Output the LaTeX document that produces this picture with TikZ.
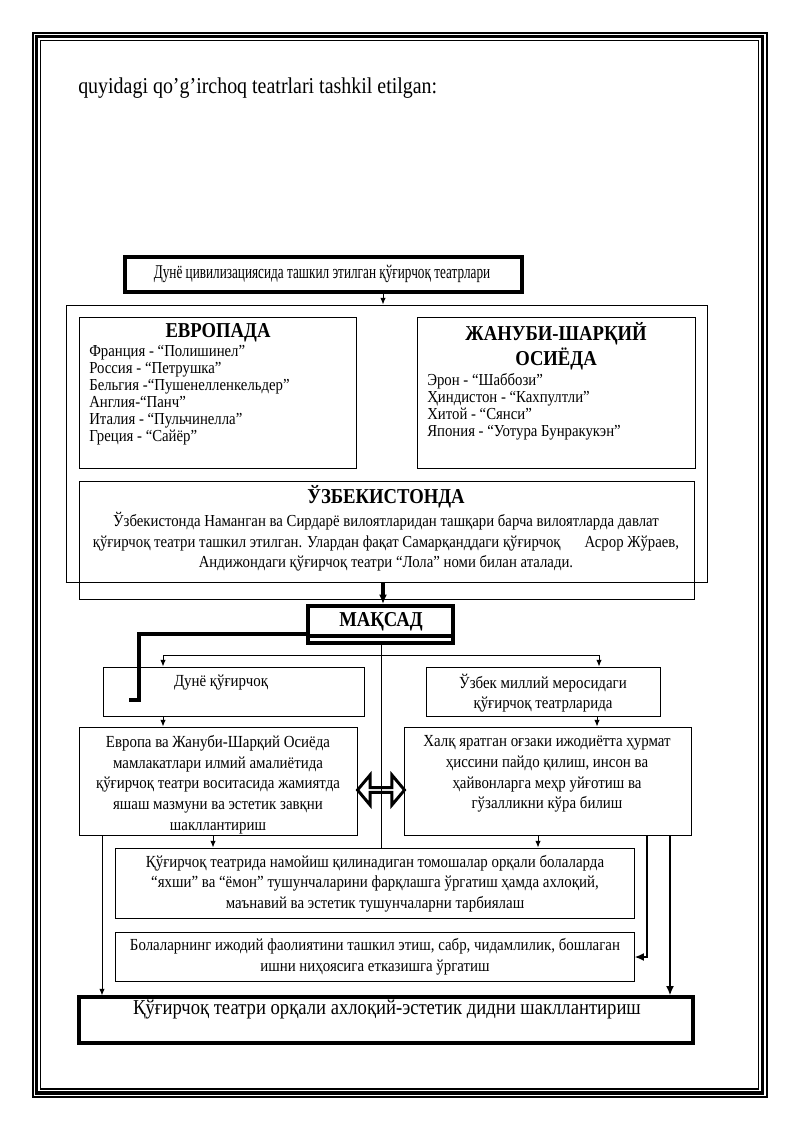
\documentclass[tikz,border=0pt]{standalone}
\usepackage{fontspec}
\setmainfont[FakeStretch=0.88]{Liberation Serif}
\newfontfamily\condfont[FakeStretch=0.68]{Liberation Serif}
\usetikzlibrary{fit,shapes.arrows,arrows.meta}
\begin{document}
\begin{tikzpicture}[x=0.75pt,y=-0.75pt,
  box/.style={draw=black, line width=0.75pt, inner sep=0pt, fill=none},
  thickbox/.style={draw=black, line width=3pt, inner sep=0pt},
  txt/.style={inner sep=0pt, align=center, font=\fontsize{12.7}{15.5}\selectfont},
  lst/.style={inner sep=0pt, align=left, font=\fontsize{12.6}{12.75}\selectfont},
  hd/.style={inner sep=0pt, align=center, font=\fontsize{15.9}{18.75}\selectfont\bfseries},
  conn/.style={line width=0.6pt, -{Latex[length=5pt,width=4pt]}},
  thickconn/.style={line width=2.4pt, -{Latex[length=7pt,width=6pt]}}
]
\useasboundingbox (0,0) rectangle (800,1131);
\fill[white] (0,0) rectangle (800,1131);
% page border
\draw[line width=0.8pt] (33,33) rectangle (767,1097);
\draw[line width=2.3pt] (36.5,36.5) rectangle (762.5,1093);
\draw[line width=0.8pt] (40.5,40.5) rectangle (758.5,1089);

\node[anchor=west, inner sep=0pt, font=\fontsize{17}{19}\selectfont] (intro) at (78,88) {quyidagi qo’g’irchoq teatrlari tashkil etilgan:};

% title
\node[thickbox, fit={(125,257)(522,292)}] (title) {};
\node[inner sep=0pt, font=\condfont\fontsize{14.6}{16}\selectfont] (titletxt) at (322,274) {Дунё цивилизациясида ташкил этилган қўғирчоқ театрлари};

% outer
\node[box, fit={(66,305)(707,582)}] (outer) {};
\coordinate (tarr) at (383,292);
\draw[conn] (tarr) -- (tarr |- outer.north);

% Europe
\node[box, fit={(79,317)(356,468)}] (evr) {};
\node[hd] (evrh) at (218,333) {ЕВРОПАДА};
\node[lst, anchor=west] (evrl) at (89,395.5) {Франция - “Полишинел”\\Россия - “Петрушка”\\Бельгия -“Пушенелленкельдер”\\Англия-“Панч”\\Италия - “Пульчинелла”\\Греция - “Сайёр”};

% South-East Asia
\node[box, fit={(417,317)(695,468)}] (asia) {};
\node[hd] (asiah) at (556,346) {ЖАНУБИ-ШАРҚИЙ\\ОСИЁДА};
\node[lst, anchor=west] (asial) at (427,406.5) {Эрон - “Шаббози”\\Ҳиндистон - “Кахпултли”\\Хитой - “Сянси”\\Япония - “Уотура Бунракукэн”};

% Uzbekistan
\node[box, fill=white, fit={(79,481)(694,599)}] (uzb) {};
\draw[line width=0.75pt] (outer.south west) -- (outer.south east);
\node[hd] (uzbh) at (386,497) {ЎЗБЕКИСТОНДА};
\node[txt, font=\fontsize{12.6}{15.4}\selectfont] (uzbt) at (386,542) {Ўзбекистонда Наманган ва Сирдарё вилоятларидан ташқари барча вилоятларда давлат\\қўғирчоқ театри ташкил этилган. Улардан фақат Самарқанддаги қўғирчоқ\hspace{18pt}Асрор Жўраев,\\Андижондаги қўғирчоқ театри “Лола” номи билан аталади.};

% Maqsad
\node[thickbox, fit={(308,606)(453,643)}] (maqsad) {};
\draw[line width=2.4pt] (308,636) -- (453,636);
\node[hd] (maqsadt) at (381,622) {МАҚСАД};
\coordinate (uarr) at (383,582);
\draw[thickconn] (uarr) -- (uarr |- maqsad.north);

% level 2
\node[box, fit={(103,667)(364,716)}] (dune) {};
\node[txt] (dunet) at (221,683) {Дунё қўғирчоқ};
\node[box, fit={(426,667)(660,716)}] (uzm) {};
\node[txt] (uzmt) at (543,693) {Ўзбек миллий меросидаги\\қўғирчоқ театрларида};

% level 3
\node[box, fit={(79,727)(357,835)}] (evropa) {};
\node[txt] (evropat) at (218,784.5) {Европа ва Жануби-Шарқий Осиёда\\мамлакатлари илмий амалиётида\\қўғирчоқ театри воситасида жамиятда\\яшаш мазмуни ва эстетик завқни\\шакллантириш};
\node[box, fit={(404,727)(691,835)}] (xalq) {};
\node[txt] (xalqt) at (547,774) {Халқ яратган оғзаки ижодиётта ҳурмат\\ҳиссини пайдо қилиш, инсон ва\\ҳайвонларга меҳр уйғотиш ва\\гўзалликни кўра билиш};

% level 4
\node[box, fit={(115,848)(634,918)}] (long1) {};
\node[txt] (long1t) at (375,883.5) {Қўғирчоқ театрида намойиш қилинадиган томошалар орқали болаларда\\“яхши” ва “ёмон” тушунчаларини фарқлашга ўргатиш ҳамда ахлоқий,\\маънавий ва эстетик тушунчаларни тарбиялаш};
\node[box, fit={(115,932)(634,981)}] (long2) {};
\node[txt] (long2t) at (375,957) {Болаларнинг ижодий фаолиятини ташкил этиш, сабр, чидамлилик, бошлаган\\ишни ниҳоясига етказишга ўргатиш};

% final
\node[draw=black, line width=2.3pt, inner sep=0pt, fit={(79,997)(693,1043)}] (final) {};
\node[txt, font=\fontsize{15.9}{18}\selectfont] (finalt) at (387,1010) {Қўғирчоқ театри орқали ахлоқий-эстетик дидни шакллантириш};

% double arrow
\node[double arrow, draw=black, fill=white, line width=2.2pt, inner sep=0pt,
  minimum height=47*0.75pt, minimum width=30*0.75pt, double arrow head extend=6pt,
  double arrow tip angle=100] (darr) at (381,790) {};

% connectors
\coordinate (mq) at (381,0);
\draw[line width=0.6pt] (maqsad.south -| mq) -- (long1.north -| mq);
\coordinate (hl) at (163,655);
\coordinate (hr) at (599,655);
\draw[line width=0.6pt] (hl) -- (hr);
\draw[conn] (hl) -- (hl |- dune.north);
\draw[conn] (hr) -- (hr |- uzm.north);
\draw[line width=2.4pt] (maqsad.west |- 0,634) -- (139,634) -- (139,700) -- (129,700);
\coordinate (a1) at (163,0);
\draw[conn] (dune.south -| a1) -- (evropa.north -| a1);
\coordinate (a2) at (597,0);
\draw[conn] (uzm.south -| a2) -- (xalq.north -| a2);
\coordinate (a3) at (213,0);
\draw[conn] (evropa.south -| a3) -- (long1.north -| a3);
\coordinate (a4) at (538,0);
\draw[conn] (xalq.south -| a4) -- (long1.north -| a4);
\coordinate (a5) at (102,0);
\draw[conn] (evropa.south -| a5) -- (final.north -| a5);
\draw[thickconn, line width=2pt] (xalq.south -| 647,0) -- (647,957) -- (long2.east |- 0,957);
\draw[thickconn, line width=2pt] (xalq.south -| 670,0) -- (final.north -| 670,0);
\end{tikzpicture}
\end{document}
